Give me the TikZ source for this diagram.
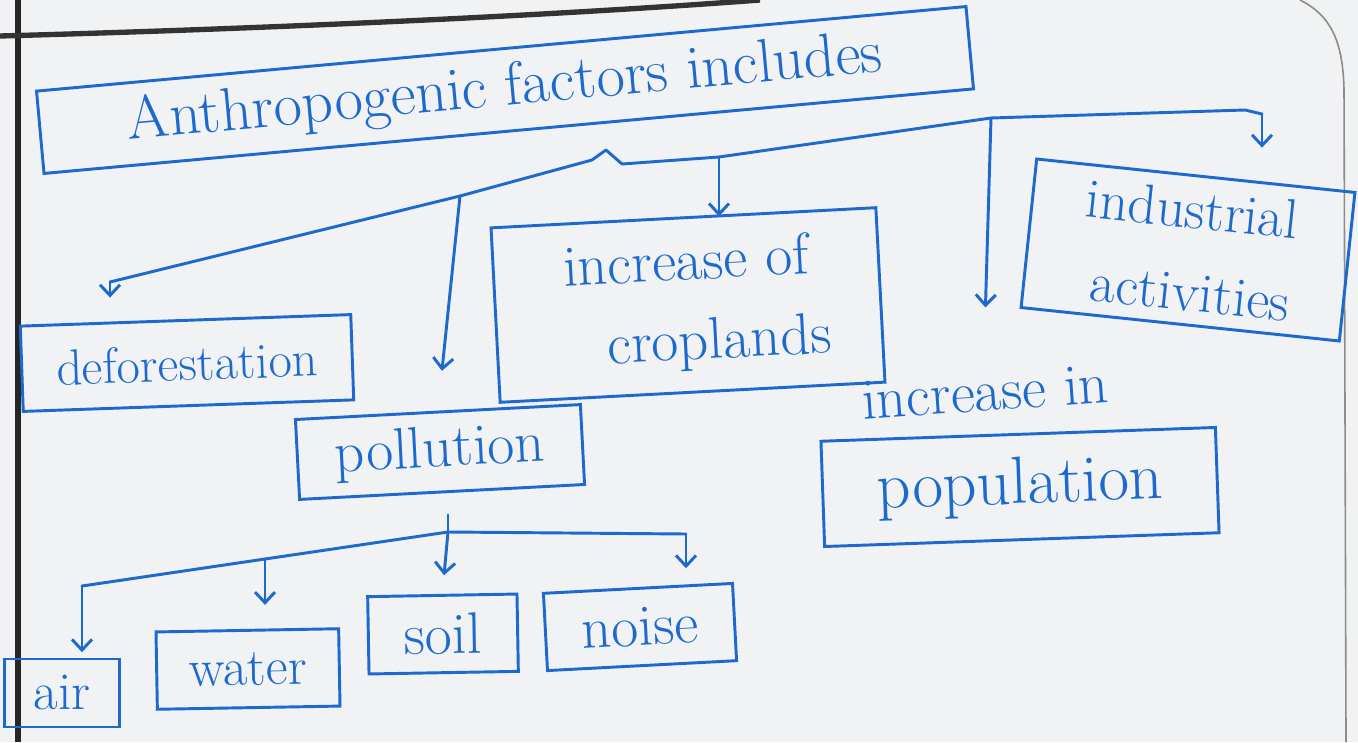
\documentclass[tikz,border=0pt]{standalone}
\usetikzlibrary{arrows.meta,calc}
\definecolor{ink}{RGB}{30,105,205}
\definecolor{paper}{RGB}{241,242,244}
\tikzset{every picture/.style={line width=0.75pt}}
\tikzset{
  box/.style={draw=ink, line width=2.2pt, inner sep=0.75pt, text=ink, font=\fontsize{40}{46}\selectfont},
  trunk/.style={draw=ink, line width=2.2pt, line cap=round, line join=round},
  link/.style={trunk, -{Straight Barb[length=8pt,width=15pt]}},
}

\begin{document}
\begin{tikzpicture}[x=0.75pt,y=0.75pt,yscale=-1,xscale=1]
	%set diagram frame to the size of the page photo
	\useasboundingbox [fill=paper] (0,0) rectangle (1358,742);

	%Page edges
	\draw [line width=4.5pt, black!85] (18,0) -- (18,742) ;
	\draw [line width=4pt, black!80] (0,36) .. controls (220,30) and (520,18) .. (760,0) ;
	\draw [line width=1.2pt, black!45] (1300,0) .. controls (1330,15) and (1343,40) .. (1344,90) -- (1346,742) ;

	% Text Node
	\node (title) at (505,90) [box, rotate=5.2, minimum width=700pt, minimum height=62pt, font=\fontsize{46}{50}\selectfont] {Anthropogenic factors includes};
	% Text Node
	\node (defor) at (187,363) [box, rotate=2, minimum width=248pt, minimum height=64pt, font=\fontsize{38}{44}\selectfont] {deforestation};
	% Text Node
	\node (poll) at (440,452) [box, rotate=3, minimum width=214pt, minimum height=60pt, font=\fontsize{44}{50}\selectfont] {pollution};
	% Text Node
	\node (crop) at (688,305) [box, rotate=3, minimum width=289pt, minimum height=131pt, align=center, font=\fontsize{44}{60}\selectfont] {increase of\\\quad croplands};
	% Text Node
	\node (indus) at (1188,250) [box, rotate=-6, minimum width=240pt, minimum height=112pt, align=right, font=\fontsize{42}{62}\selectfont] {industrial\\activities};
	% Text Node
	\node (incr) at (985,392) [rotate=4, inner sep=0.75pt, text=ink, font=\fontsize{44}{50}\selectfont] {increase in};
	% Text Node
	\node (popu) at (1020,487) [box, rotate=2, minimum width=296pt, minimum height=79pt, font=\fontsize{50}{56}\selectfont] {population};
	% Text Node
	\node (air) at (62,693) [box, minimum width=86pt, minimum height=51pt] {air};
	% Text Node
	\node (water) at (248,669) [box, rotate=1, minimum width=137pt, minimum height=58pt] {water};
	% Text Node
	\node (soil) at (443,634) [box, rotate=1, minimum width=112pt, minimum height=58pt, font=\fontsize{44}{50}\selectfont] {soil};
	% Text Node
	\node (noise) at (640,627) [box, rotate=3, minimum width=142pt, minimum height=58pt, font=\fontsize{44}{50}\selectfont] {noise};

	%Branch points
	\coordinate (dfork) at (110,282);
	\coordinate (pfork) at (460,196);
	\coordinate (brace) at (606,150);
	\coordinate (cfork) at (719,157);
	\coordinate (npfork) at (991,118);
	\coordinate (ifork) at (1262,114);
	\coordinate (sfork) at (448,532);
	\coordinate (afork) at (82,586);
	\coordinate (nfork) at (686,534);
	\path (sfork) -- (afork) coordinate[pos=0.5] (wfork);

	%Straight Lines
	\draw [trunk] (dfork) -- (pfork) -- ($(brace)+(-14,10)$) -- (brace) -- ($(brace)+(16,14)$) -- (cfork) -- (npfork) -- (1245,110) -- (ifork) ;
	\draw [link, shorten >=16pt] (dfork) -- (dfork |- defor.north) ;
	\draw [link, shorten >=30pt] (pfork) -- (poll.north) ;
	\draw [link] (cfork) -- (cfork |- crop.north) ;
	\draw [link, shorten >=48pt] (npfork) -- (incr.north) ;
	\draw [link, shorten >=20pt] (ifork) -- (ifork |- indus.north) ;

	%Straight Lines
	\draw [trunk, shorten <=16pt] (poll.south -| sfork) -- (sfork) ;
	\draw [trunk] (afork) -- (sfork) -- (nfork) ;
	\draw [link, shorten >=4pt] (afork) -- (afork |- air.north) ;
	\draw [link, shorten >=18pt] (wfork) -- (wfork |- water.north) ;
	\draw [link, shorten >=14pt] (sfork) -- (soil.north) ;
	\draw [link, shorten >=14pt] (nfork) -- (nfork |- noise.north) ;

\end{tikzpicture}
\end{document}
